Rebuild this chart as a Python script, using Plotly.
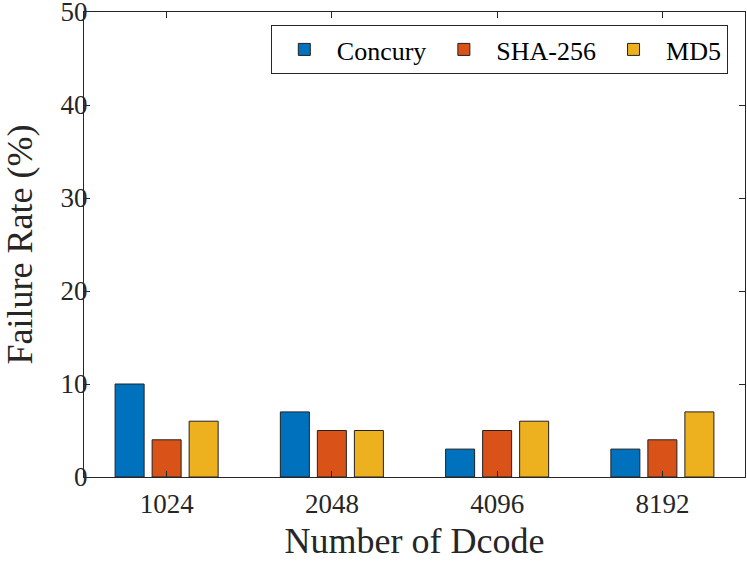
import plotly.graph_objects as go

# data
dcode_sizes = ["1024", "2048", "4096", "8192"]
concury = [10, 7, 3, 3]
sha256 = [4, 5, 5, 4]
md5 = [6, 5, 6, 7]

series = [
    ("Concury", concury, "#0072BD"),
    ("SHA-256", sha256, "#D95319"),
    ("MD5", md5, "#EDB120"),
]

serif = "Liberation Serif, Times New Roman, serif"

fig = go.Figure()
for name, vals, col in series:
    fig.add_trace(go.Bar(
        x=dcode_sizes,
        y=vals,
        name=name,
        marker=dict(color=col, line=dict(color="#222222", width=1)),
    ))

axis_common = dict(
    showline=True,
    linecolor="#262626",
    linewidth=1,
    mirror="ticks",
    ticks="inside",
    ticklen=6,
    tickcolor="#262626",
    showgrid=False,
    zeroline=False,
    automargin=False,
    ticklabeloverflow="allow",
    tickfont=dict(family=serif, size=27, color="#262626"),
)

fig.update_layout(
    width=747,
    height=561,
    barmode="group",
    bargap=0.328,
    bargroupgap=0.216,
    plot_bgcolor="white",
    paper_bgcolor="white",
    margin=dict(l=84, r=2, t=12, b=84),
    font=dict(family=serif, color="#262626"),
    xaxis=dict(
        axis_common,
        ticklabelstandoff=3,
        title=dict(text="Number of Dcode", font=dict(size=36), standoff=24),
    ),
    yaxis=dict(
        axis_common,
        range=[0, 50],
        dtick=10,
        ticklabelstandoff=-10,
        title=dict(text="Failure Rate (%)", font=dict(size=36), standoff=25),
    ),
    legend=dict(
        orientation="h",
        x=0.974,
        xanchor="right",
        y=0.972,
        yanchor="top",
        itemwidth=55,
        bgcolor="white",
        bordercolor="#262626",
        borderwidth=1,
        font=dict(family=serif, size=26, color="#000000"),
    ),
)

# drop the default 8px body margin so the figure sits at the window corner
fig.write_html("out.html", config={"displayModeBar": False},
               post_script="document.body.style.margin='0';")
